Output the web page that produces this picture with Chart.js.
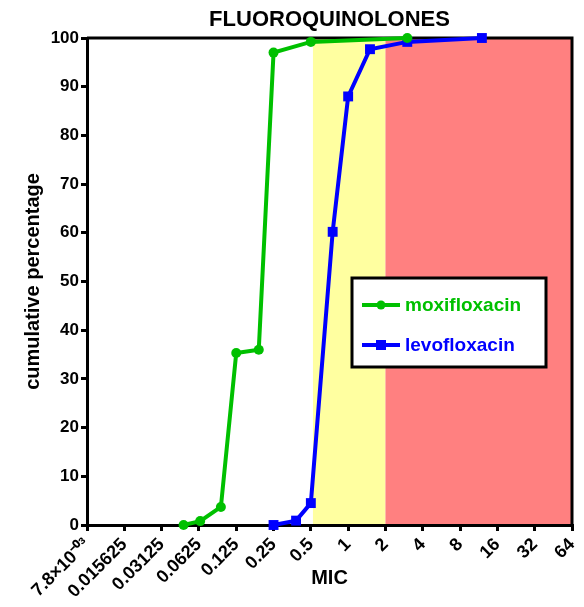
<!DOCTYPE html>
<html>
  <head>
    <title>Fluoroquinolones</title>
    <script src="https://cdn.jsdelivr.net/npm/chart.js"></script>
    <style>
      body,
      html {
        margin: 0;
        padding: 0;
        overflow: hidden;
        background-color: white;
      }
      canvas {
        display: block;
      }
    </style>
  </head>
  <body>
    <canvas id="chartCanvas" width="584" height="607"></canvas>
    <script>
      // x axis: MIC, log2 spaced ticks
      const micTicks = [0.0078125, 0.015625, 0.03125, 0.0625, 0.125, 0.25, 0.5, 1, 2, 4, 8, 16, 32, 64];
      const micTickLabels = ["7.8×10⁻⁰³", "0.015625", "0.03125", "0.0625", "0.125", "0.25", "0.5", "1", "2", "4", "8", "16", "32", "64"];

      // cumulative percentage per MIC value
      const moxiMic = [0.047, 0.064, 0.094, 0.125, 0.19, 0.25, 0.5, 3];
      const moxiCum = [0, 0.8, 3.7, 35.3, 36.0, 97.0, 99.2, 100];
      const levoMic = [0.25, 0.38, 0.5, 0.75, 1, 1.5, 3, 12];
      const levoCum = [0, 0.9, 4.5, 60.2, 88.0, 97.7, 99.2, 100];

      // shaded bands: intermediate (yellow) then resistant (red) up to axis end
      const bandEdges = [0.52, 2, 64];
      const bandColors = ["#FFFFA0", "#FF8080"];

      const FONT = "'Liberation Sans', Arial, sans-serif";
      Chart.defaults.font.family = FONT;
      Chart.defaults.color = "#000";

      function toPoints(xs, ys) {
        return xs.map((v, i) => ({ x: v, y: ys[i] }));
      }

      const bandsPlugin = {
        id: "bands",
        beforeDraw(chart) {
          const { ctx, chartArea: a, scales } = chart;
          ctx.save();
          for (let i = 0; i < bandColors.length; i++) {
            const x0 = scales.x.getPixelForValue(bandEdges[i]);
            const x1 = scales.x.getPixelForValue(bandEdges[i + 1]);
            ctx.fillStyle = bandColors[i];
            ctx.fillRect(x0, a.top, x1 - x0, a.bottom - a.top);
          }
          ctx.restore();
        },
        beforeDatasetsDraw(chart) {
          // top and right frame lines
          const { ctx, chartArea: a } = chart;
          ctx.save();
          ctx.strokeStyle = "#000";
          ctx.lineWidth = 3;
          ctx.beginPath();
          ctx.moveTo(a.left, a.top);
          ctx.lineTo(a.right, a.top);
          ctx.lineTo(a.right, a.bottom);
          ctx.stroke();
          ctx.restore();
        },
        afterDraw(chart) {
          const { ctx, chartArea: a } = chart;
          ctx.save();
          // title
          ctx.fillStyle = "#000";
          ctx.font = "bold 22px " + FONT;
          ctx.textAlign = "center";
          ctx.textBaseline = "alphabetic";
          ctx.fillText("FLUOROQUINOLONES", (a.left + a.right) / 2, 26);

          // legend box
          const box = { x: 352, y: 278, w: 194, h: 89 };
          ctx.fillStyle = "#fff";
          ctx.fillRect(box.x, box.y, box.w, box.h);
          ctx.strokeStyle = "#000";
          ctx.lineWidth = 3;
          ctx.strokeRect(box.x, box.y, box.w, box.h);

          const rows = [305, 345];
          chart.data.datasets.forEach((ds, i) => {
            const y = rows[i];
            ctx.strokeStyle = ds.borderColor;
            ctx.lineWidth = 4;
            ctx.beginPath();
            ctx.moveTo(362, y);
            ctx.lineTo(400, y);
            ctx.stroke();
            ctx.fillStyle = ds.borderColor;
            if (ds.pointStyle === "rect") {
              ctx.fillRect(376, y - 5, 10, 10);
            } else {
              ctx.beginPath();
              ctx.arc(381, y, 4.5, 0, Math.PI * 2);
              ctx.fill();
            }
            ctx.font = "bold 19px " + FONT;
            ctx.textAlign = "left";
            ctx.textBaseline = "middle";
            ctx.fillText(ds.label, 405, y + 1);
          });
          ctx.restore();
        },
      };

      const axisLine = {
        display: true,
        drawOnChartArea: false,
        drawTicks: true,
        tickLength: 6,
        lineWidth: 3,
        color: "#000",
      };

      const ctx = document.getElementById("chartCanvas");

      const chart = new Chart(ctx, {
        type: "line",
        data: {
          datasets: [
            {
              label: "moxifloxacin",
              data: toPoints(moxiMic, moxiCum),
              borderColor: "#00C000",
              backgroundColor: "#00C000",
              borderWidth: 4,
              pointStyle: "circle",
              pointRadius: 5,
              pointBorderWidth: 0,
              clip: false,
            },
            {
              label: "levofloxacin",
              data: toPoints(levoMic, levoCum),
              borderColor: "#0000FF",
              backgroundColor: "#0000FF",
              borderWidth: 4,
              pointStyle: "rect",
              pointRadius: 7,
              pointBorderWidth: 0,
              clip: false,
            },
          ],
        },
        options: {
          responsive: false,
          devicePixelRatio: 1,
          animation: false,
          layout: {
            padding: { left: 0, right: 12, top: 38, bottom: 0 },
          },
          scales: {
            x: {
              type: "logarithmic",
              min: micTicks[0],
              max: micTicks[micTicks.length - 1],
              afterBuildTicks: (s) => {
                s.ticks = micTicks.map((v) => ({ value: v }));
              },
              afterFit: (s) => {
                s.height = 82;
                s.paddingLeft = 0;
                s.paddingRight = 0;
              },
              grid: axisLine,
              border: { display: true, width: 3, color: "#000" },
              ticks: {
                autoSkip: false,
                minRotation: 45,
                maxRotation: 45,
                padding: 3,
                color: "#000",
                font: { size: 18, weight: "bold" },
                callback: (value, index) => micTickLabels[index],
              },
              title: {
                display: true,
                text: "MIC",
                color: "#000",
                font: { size: 20, weight: "bold" },
                padding: { top: 0, bottom: 17 },
              },
            },
            y: {
              min: 0,
              max: 100,
              afterFit: (s) => {
                s.width = 87;
                s.paddingTop = 0;
                s.paddingBottom = 0;
              },
              grid: axisLine,
              border: { display: true, width: 3, color: "#000" },
              ticks: {
                stepSize: 10,
                padding: 2,
                color: "#000",
                font: { size: 17, weight: "bold" },
              },
              title: {
                display: true,
                text: "cumulative percentage",
                color: "#000",
                font: { size: 20, weight: "bold" },
                padding: { top: 21, bottom: 0 },
              },
            },
          },
          plugins: {
            legend: { display: false },
            tooltip: { enabled: false },
          },
        },
        plugins: [bandsPlugin],
      });
    </script>
  </body>
</html>
